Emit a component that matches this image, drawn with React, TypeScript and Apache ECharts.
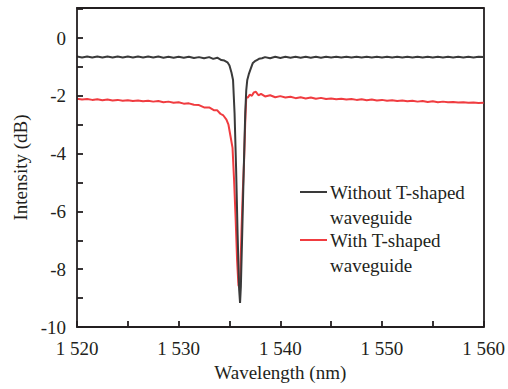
import React, { useEffect, useRef } from "react";
import * as echarts from "echarts";

const xMin = 1520;
const xMax = 1560;
const xLabelStep = 10;
const xTickStep = 5;
const yMin = -10;
const yMax = 1.04;
const yLabelStep = 2;
const yTickStep = 1;

const seriesNames = ["Without T-shaped waveguide", "With T-shaped waveguide"];

const withoutT: [number, number][] = [
  [1520, -0.64], [1520.5, -0.67], [1521, -0.64], [1521.5, -0.67], [1522, -0.64], [1522.5, -0.67],
  [1523, -0.64], [1523.5, -0.67], [1524, -0.64], [1524.5, -0.67], [1525, -0.64], [1525.5, -0.67],
  [1526, -0.64], [1526.5, -0.67], [1527, -0.64], [1527.5, -0.67], [1528, -0.64], [1528.5, -0.68],
  [1529, -0.65], [1529.5, -0.68], [1530, -0.65], [1530.5, -0.68], [1531, -0.65], [1531.5, -0.69],
  [1532, -0.66], [1532.5, -0.70], [1533, -0.66], [1533.4, -0.72], [1533.8, -0.68], [1534.2, -0.76],
  [1534.5, -0.78], [1534.8, -0.84], [1535.0, -0.95], [1535.2, -1.2], [1535.35, -1.45], [1535.5, -2.6],
  [1535.65, -4.5], [1535.8, -6.8], [1535.95, -8.7], [1536.04, -9.17], [1536.12, -8.6], [1536.25, -6.8],
  [1536.4, -4.6], [1536.55, -2.6], [1536.65, -1.8], [1536.75, -1.45], [1536.9, -1.25], [1537.1, -1.05],
  [1537.3, -0.86], [1537.5, -0.8], [1537.7, -0.76], [1537.9, -0.72], [1538.2, -0.7], [1538.5, -0.66],
  [1539, -0.7], [1539.5, -0.65], [1540, -0.69], [1540.5, -0.65], [1541, -0.68], [1541.5, -0.65],
  [1542, -0.68], [1542.5, -0.65], [1543, -0.68], [1543.5, -0.65], [1544, -0.68], [1544.5, -0.65],
  [1545, -0.67], [1545.5, -0.65], [1546, -0.67], [1546.5, -0.65], [1547, -0.67], [1547.5, -0.65],
  [1548, -0.67], [1548.5, -0.65], [1549, -0.67], [1549.5, -0.65], [1550, -0.67], [1550.5, -0.65],
  [1551, -0.67], [1551.5, -0.65], [1552, -0.67], [1552.5, -0.65], [1553, -0.67], [1553.5, -0.65],
  [1554, -0.67], [1554.5, -0.65], [1555, -0.67], [1555.5, -0.65], [1556, -0.67], [1556.5, -0.65],
  [1557, -0.67], [1557.5, -0.65], [1558, -0.67], [1558.5, -0.65], [1559, -0.67], [1559.5, -0.65],
  [1560, -0.66],
];

const withT: [number, number][] = [
  [1520, -2.1], [1520.5, -2.13], [1521, -2.11], [1521.5, -2.14], [1522, -2.12], [1522.5, -2.15],
  [1523, -2.13], [1523.5, -2.16], [1524, -2.14], [1524.5, -2.17], [1525, -2.15], [1525.5, -2.18],
  [1526, -2.16], [1526.5, -2.19], [1527, -2.17], [1527.5, -2.2], [1528, -2.18], [1528.5, -2.22],
  [1529, -2.2], [1529.5, -2.24], [1530, -2.22], [1530.5, -2.27], [1531, -2.26], [1531.5, -2.31],
  [1532, -2.32], [1532.5, -2.4], [1533, -2.4], [1533.5, -2.5], [1533.8, -2.5], [1534.1, -2.62],
  [1534.4, -2.68], [1534.7, -2.82], [1534.9, -3.0], [1535.1, -3.4], [1535.3, -3.8], [1535.45, -4.9],
  [1535.6, -6.2], [1535.75, -7.7], [1535.88, -8.55], [1535.98, -8.65], [1536.06, -8.2], [1536.18, -6.7],
  [1536.3, -5.4], [1536.43, -4.3], [1536.55, -2.9], [1536.65, -2.05], [1536.8, -2.06], [1537.0, -1.96],
  [1537.2, -2.0], [1537.4, -1.88], [1537.6, -1.86], [1537.85, -1.98], [1538.1, -1.93], [1538.5, -2.02],
  [1539, -1.98], [1539.5, -2.05], [1540, -2.01], [1540.5, -2.06], [1541, -2.03], [1541.5, -2.08],
  [1542, -2.05], [1542.5, -2.09], [1543, -2.06], [1543.5, -2.1], [1544, -2.07], [1544.5, -2.11],
  [1545, -2.09], [1545.5, -2.12], [1546, -2.1], [1546.5, -2.13], [1547, -2.11], [1547.5, -2.14],
  [1548, -2.12], [1548.5, -2.15], [1549, -2.13], [1549.5, -2.16], [1550, -2.14], [1550.5, -2.17],
  [1551, -2.15], [1551.5, -2.18], [1552, -2.16], [1552.5, -2.19], [1553, -2.17], [1553.5, -2.2],
  [1554, -2.18], [1554.5, -2.21], [1555, -2.19], [1555.5, -2.22], [1556, -2.2], [1556.5, -2.22],
  [1557, -2.21], [1557.5, -2.23], [1558, -2.22], [1558.5, -2.24], [1559, -2.23], [1559.5, -2.25],
  [1560, -2.24],
];

const FONT = "'Liberation Serif', 'Times New Roman', serif";
const AXIS_COLOR = "#231f20";
const BLACK = "#3a3a3a";
const RED = "#f03c40";

export default function App() {
  const ref = useRef<HTMLDivElement>(null);
  useEffect(() => {
    if (!ref.current) return;
    const chart = echarts.init(ref.current, undefined, { renderer: "svg" });
    const fmtX = (v: number) => {
      if (Math.abs(v % xLabelStep) > 1e-6) return "";
      const s = String(v);
      return s.slice(0, 1) + " " + s.slice(1);
    };
    const fmtY = (v: number) => {
      if (v > 0.5) return "";
      if (Math.abs(Math.round(v) % yLabelStep) !== 0) return "";
      return String(Math.round(v));
    };
    chart.setOption({
      animation: false,
      backgroundColor: "#ffffff",
      textStyle: { fontFamily: FONT },
      grid: {
        left: 77,
        right: 22,
        top: 8,
        bottom: 62,
        show: false,
      },
      xAxis: [
        {
          type: "value",
          min: xMin,
          max: xMax,
          interval: xTickStep,
          position: "bottom",
          name: "Wavelength (nm)",
          nameLocation: "middle",
          nameGap: 36,
          nameTextStyle: { fontFamily: FONT, fontSize: 19, color: AXIS_COLOR },
          splitLine: { show: false },
          axisLine: { show: true, onZero: false, lineStyle: { color: AXIS_COLOR, width: 1.8 } },
          axisTick: {
            show: true,
            inside: true,
            length: 6,
            lineStyle: { color: AXIS_COLOR, width: 1.8 },
          },
          axisLabel: {
            show: true,
            formatter: fmtX,
            fontFamily: FONT,
            fontSize: 19,
            color: AXIS_COLOR,
            margin: 12,
          },
          z: 10,
        },
        {
          type: "value",
          min: xMin,
          max: xMax,
          position: "top",
          axisLine: { show: true, onZero: false, lineStyle: { color: AXIS_COLOR, width: 1.8 } },
          axisTick: { show: false },
          axisLabel: { show: false },
          splitLine: { show: false },
        },
      ],
      yAxis: [
        {
          type: "value",
          min: yMin,
          max: yMax,
          interval: yTickStep,
          position: "left",
          name: "Intensity (dB)",
          nameLocation: "middle",
          nameGap: 45,
          nameTextStyle: { fontFamily: FONT, fontSize: 19, color: AXIS_COLOR },
          splitLine: { show: false },
          axisLine: { show: true, onZero: false, lineStyle: { color: AXIS_COLOR, width: 1.8 } },
          axisTick: {
            show: true,
            inside: true,
            length: 6,
            lineStyle: { color: AXIS_COLOR, width: 1.8 },
          },
          axisLabel: {
            show: true,
            formatter: fmtY,
            showMaxLabel: false,
            fontFamily: FONT,
            fontSize: 19,
            color: AXIS_COLOR,
            margin: 11,
          },
          z: 10,
        },
        {
          type: "value",
          min: yMin,
          max: yMax,
          position: "right",
          axisLine: { show: true, onZero: false, lineStyle: { color: AXIS_COLOR, width: 1.8 } },
          axisTick: { show: false },
          axisLabel: { show: false },
          splitLine: { show: false },
        },
      ],
      series: [
        {
          name: seriesNames[0],
          type: "line",
          data: withoutT,
          showSymbol: false,
          lineStyle: { color: BLACK, width: 2 },
          z: 3,
        },
        {
          name: seriesNames[1],
          type: "line",
          data: withT,
          showSymbol: false,
          lineStyle: { color: RED, width: 2 },
          z: 2,
        },
      ],
      graphic: [
        { type: "line", shape: { x1: 300, y1: 192, x2: 327, y2: 192 }, style: { stroke: BLACK, lineWidth: 2 } },
        {
          type: "text",
          x: 330,
          y: 180,
          style: {
            text: "Without T-shaped\nwaveguide",
            fontFamily: FONT,
            fontSize: 19,
            lineHeight: 25,
            fill: AXIS_COLOR,
          },
        },
        { type: "line", shape: { x1: 300, y1: 240, x2: 327, y2: 240 }, style: { stroke: RED, lineWidth: 2 } },
        {
          type: "text",
          x: 330,
          y: 228,
          style: {
            text: "With T-shaped\nwaveguide",
            fontFamily: FONT,
            fontSize: 19,
            lineHeight: 25,
            fill: AXIS_COLOR,
          },
        },
      ],
    });
    return () => chart.dispose();
  }, []);
  return (
    <div
      ref={ref}
      style={{ position: "fixed", left: 0, top: 0, width: 508, height: 389 }}
    />
  );
}
